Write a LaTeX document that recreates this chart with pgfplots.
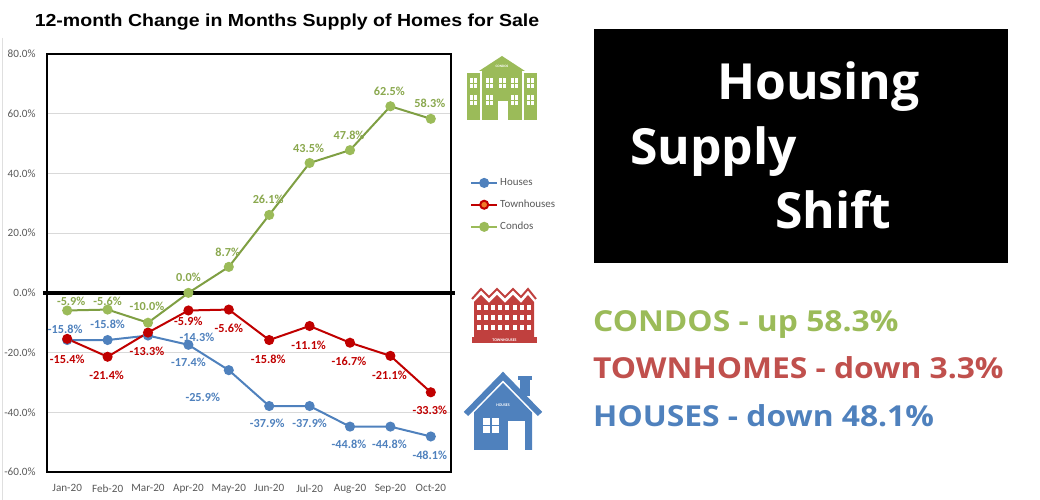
\documentclass[border=0pt]{standalone}
\usepackage{pgfplots}
\pgfplotsset{compat=1.18}
\usepackage{graphicx}
\usepackage{fontspec}
\setmainfont{Carlito}
\newfontfamily\arialfont{Liberation Sans}
\newfontfamily\segoefont{Open Sans}

\definecolor{hblue}{HTML}{4F81BD}
\definecolor{tred}{HTML}{C00000}
\definecolor{cgreen}{HTML}{9BBB59}
\definecolor{cline}{HTML}{7F9F43}
\definecolor{clabel}{HTML}{8AA84E}
\definecolor{tickgray}{HTML}{595959}
\definecolor{gridgray}{HTML}{D9D9D9}
\definecolor{txtred}{HTML}{C0504D}
\definecolor{iconred}{HTML}{C0403E}
\definecolor{legorange}{HTML}{F07C28}

% data label: {x,y}{text}{dx}{dy}{colour}
\newcommand{\dl}[5]{\node[font=\fontsize{12.3}{13}\selectfont\bfseries, text=#5, inner sep=0pt] at ([xshift=#3bp,yshift=#4bp]axis cs:#1) {#2};}

\begin{document}
\begin{tikzpicture}
\path[use as bounding box] (0,0) rectangle (1040bp,500bp);

\begin{axis}[
    at={(47bp,28bp)}, anchor=south west,
    scale only axis, width=404bp, height=418bp,
    xmin=-0.5, xmax=9.5, ymin=-60, ymax=80,
    xtick={0,...,9},
    xticklabels={Jan-20,Feb-20,Mar-20,Apr-20,May-20,Jun-20,Jul-20,Aug-20,Sep-20,Oct-20},
    ytick={-60,-40,...,80},
    yticklabels={-60.0\%,-40.0\%,-20.0\%,0.0\%,20.0\%,40.0\%,60.0\%,80.0\%},
    major tick length=0pt,
    ymajorgrids, grid style={gridgray, line width=0.8bp},
    axis line style={black, line width=1.5bp},
    tick label style={font=\fontsize{11.2}{12}\selectfont, text=tickgray},
    yticklabel style={xshift=-8bp},
    xticklabel style={yshift=-9bp},
    clip=false,
    legend style={at={(axis description cs:1.047,0.707)}, anchor=north west,
        draw=none, fill=none, inner sep=0pt,
        font=\fontsize{11}{12}\selectfont, text=tickgray, row sep=9bp},
    legend cell align=left,
    legend image code/.code={\draw[mark repeat=2,mark phase=2,#1] plot coordinates {(0bp,0bp) (13bp,0bp) (26bp,0bp)};},
]
\draw[black, line width=4bp] ([xshift=-4bp]axis cs:-0.5,0) -- ([xshift=4bp]axis cs:9.5,0);

\addplot[hblue, line width=2bp, mark=*, mark size=4bp, mark options={fill=hblue, draw=hblue}, forget plot]
coordinates {(0,-15.8) (1,-15.8) (2,-14.3) (3,-17.4) (4,-25.9) (5,-37.9) (6,-37.9) (7,-44.8) (8,-44.8) (9,-48.1)};
\addplot[tred, line width=2bp, mark=*, mark size=4bp, mark options={fill=tred, draw=tred}, forget plot]
coordinates {(0,-15.4) (1,-21.4) (2,-13.3) (3,-5.9) (4,-5.6) (5,-15.8) (6,-11.1) (7,-16.7) (8,-21.1) (9,-33.3)};
\addplot[cline, line width=2bp, mark=*, mark size=4bp, mark options={fill=cgreen, draw=cgreen}, forget plot]
coordinates {(0,-5.9) (1,-5.6) (2,-10.0) (3,0.0) (4,8.7) (5,26.1) (6,43.5) (7,47.8) (8,62.5) (9,58.3)};

\addlegendimage{hblue, line width=2bp, mark=*, mark size=4bp, mark options={fill=hblue, draw=hblue}}
\addlegendentry{Houses}
\addlegendimage{tred, line width=2bp, mark=*, mark size=4bp, mark options={fill=legorange, draw=tred}}
\addlegendentry{Townhouses}
\addlegendimage{cgreen, line width=2bp, mark=*, mark size=4bp, mark options={fill=cgreen, draw=cgreen}}
\addlegendentry{Condos}

% condos labels
\dl{0,-5.9}{-5.9\%}{4}{9}{clabel}
\dl{1,-5.6}{-5.6\%}{0}{8}{clabel}
\dl{2,-10.0}{-10.0\%}{-1}{16}{clabel}
\dl{3,0.0}{0.0\%}{0}{16}{clabel}
\dl{4,8.7}{8.7\%}{-1}{15}{clabel}
\dl{5,26.1}{26.1\%}{-1}{16}{clabel}
\dl{6,43.5}{43.5\%}{-1}{15}{clabel}
\dl{7,47.8}{47.8\%}{-1}{15}{clabel}
\dl{8,62.5}{62.5\%}{-1}{15}{clabel}
\dl{9,58.3}{58.3\%}{-1}{15}{clabel}
% townhouses labels
\dl{0,-15.4}{-15.4\%}{0}{-20}{tred}
\dl{1,-21.4}{-21.4\%}{-1}{-19}{tred}
\dl{2,-13.3}{-13.3\%}{-1}{-19}{tred}
\dl{3,-5.9}{-5.9\%}{0}{-11}{tred}
\dl{4,-5.6}{-5.6\%}{0}{-19}{tred}
\dl{5,-15.8}{-15.8\%}{-1}{-19}{tred}
\dl{6,-11.1}{-11.1\%}{-1}{-19}{tred}
\dl{7,-16.7}{-16.7\%}{-1}{-19}{tred}
\dl{8,-21.1}{-21.1\%}{-1}{-19}{tred}
\dl{9,-33.3}{-33.3\%}{-1}{-18}{tred}
% houses labels
\dl{0,-15.8}{-15.8\%}{-2}{11}{hblue}
\dl{1,-15.8}{-15.8\%}{0}{16}{hblue}
\dl{2,-14.3}{-14.3\%}{49}{-2}{hblue}
\dl{3,-17.4}{-17.4\%}{0}{-18}{hblue}
\dl{4,-25.9}{-25.9\%}{-26}{-27}{hblue}
\dl{5,-37.9}{-37.9\%}{-2}{-17}{hblue}
\dl{6,-37.9}{-37.9\%}{0}{-17}{hblue}
\dl{7,-44.8}{-44.8\%}{-1}{-18}{hblue}
\dl{8,-44.8}{-44.8\%}{-1}{-18}{hblue}
\dl{9,-48.1}{-48.1\%}{-1}{-19}{hblue}
\end{axis}

\begin{scope}[x=1bp, y=-1bp, yshift=500bp]
% chart frame edge and title
\draw[gray!25, line width=1bp] (2,38) -- (2,500);
\node[anchor=base, inner sep=0pt, font=\arialfont\bfseries\fontsize{17.5}{17.5}\selectfont] at (287,27)
  {\scalebox{1.12}[1]{12-month Change in Months Supply of Homes for Sale}};

% condos icon
\fill[cgreen] (467,73) rectangle (480,120);
\fill[cgreen] (524,73) rectangle (537,120);
\fill[cgreen] (482,70) rectangle (522,120);
\fill[cgreen] (479,71) -- (502,56) -- (525,71) -- cycle;
\node[text=white, inner sep=0pt, font=\fontsize{3.5}{4}\selectfont\bfseries] at (502,66) {CONDOS};
\foreach \wx/\wy in {470/78,470/95,527/78,527/95,486/78,498.5/78,511/78,486/95,511/95} {
  \fill[white] (\wx,\wy) rectangle ++(7,10);
  \draw[cgreen, line width=0.9bp] ({\wx+3.5},\wy) -- ++(0,10) (\wx,{\wy+5}) -- ++(7,0);
}
\fill[white] (497.5,101) rectangle (507.5,120);

% townhouses icon
\draw[iconred, line width=2bp, line join=miter] (472,299) -- (481,289) -- (489,297) -- (497,289) -- (505,297) -- (513,289) -- (521,297) -- (528,289) -- (536,299);
\fill[iconred] (474,337) -- (474,302) -- (481,295) -- (489,303) -- (497,295) -- (505,303) -- (513,295) -- (521,303) -- (528,295) -- (534,302) -- (534,337) -- cycle;
\foreach \i in {0,...,7} {
  \foreach \wy in {305,315,325} {
    \fill[white] ({476.5+\i*7.2},\wy) rectangle ++(4,5);
  }
}
\fill[iconred] (472,337) rectangle (537,343);
\node[text=white, inner sep=0pt, font=\fontsize{4}{4}\selectfont\bfseries] at (504.5,340) {TOWNHOUSES};

% houses icon
\fill[hblue] (474,450) -- (474,412) -- (503,383) -- (532,412) -- (532,450) -- cycle;
\draw[white, line width=9bp, line join=miter] (466,414) -- (503,376) -- (540,414);
\fill[hblue] (520,378) rectangle (530,396);
\fill[hblue] (518,376) rectangle (532,380);
\draw[hblue, line width=6bp, line join=miter] (466,414) -- (503,376) -- (540,414);
\fill[white] (508,421) rectangle (525,450);
\fill[white] (483,418) rectangle (499,433);
\draw[hblue, line width=1.2bp] (491,418) -- (491,433) (483,425.5) -- (499,425.5);
\node[text=white, inner sep=0pt, font=\fontsize{4}{4}\selectfont\bfseries] at (503,405) {HOUSES};

% right panel
\fill[black] (594,29) rectangle (1008,263);
\node[anchor=base west, inner sep=0pt, text=white, font=\segoefont\bfseries\fontsize{50}{50}\selectfont] at (717,100) {Housing};
\node[anchor=base west, inner sep=0pt, text=white, font=\segoefont\bfseries\fontsize{50}{50}\selectfont] at (630,165) {Supply};
\node[anchor=base west, inner sep=0pt, text=white, font=\segoefont\bfseries\fontsize{50}{50}\selectfont] at (775,229) {Shift};
\node[anchor=base west, inner sep=0pt, text=cgreen, font=\segoefont\bfseries\fontsize{29}{29}\selectfont] at (593,332) {\scalebox{1.1}[1]{CONDOS - up 58.3\%}};
\node[anchor=base west, inner sep=0pt, text=txtred, font=\segoefont\bfseries\fontsize{29}{29}\selectfont] at (593,379) {\scalebox{1.1}[1]{TOWNHOMES - down 3.3\%}};
\node[anchor=base west, inner sep=0pt, text=hblue, font=\segoefont\bfseries\fontsize{29}{29}\selectfont] at (593,427) {\scalebox{1.1}[1]{HOUSES - down 48.1\%}};
\end{scope}
\end{tikzpicture}
\end{document}
